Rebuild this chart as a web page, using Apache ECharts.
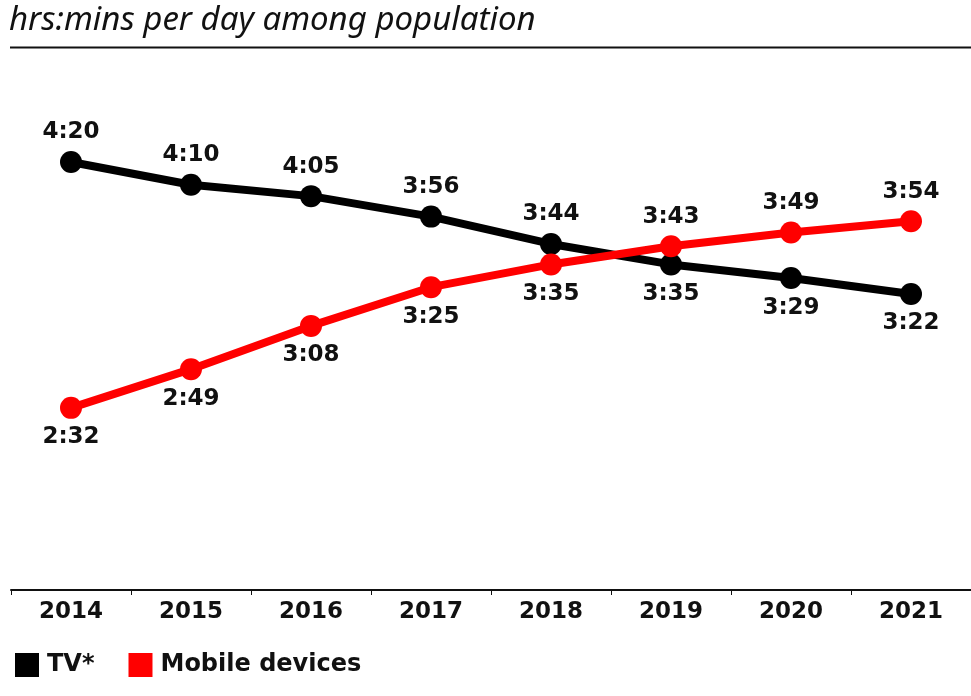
<!DOCTYPE html>
<html>
<head>
<meta charset="utf-8">
<script src="https://cdn.jsdelivr.net/npm/echarts@6/dist/echarts.min.js"></script>
<style>html,body{margin:0;padding:0;background:#fff}#c{width:971px;height:696px}</style>
</head>
<body>
<div id="c"></div>
<script>
const years = ['2014','2015','2016','2017','2018','2019','2020','2021'];
const tvMinutes = [260, 250, 245, 236, 224, 215, 209, 202];
const mobileMinutes = [152, 169, 188, 205, 215, 223, 229, 234];
const titleText = 'hrs:mins per day among population';
const seriesNames = ['TV*', 'Mobile devices'];

function fmt(m){ const h = Math.floor(m/60), mm = m%60; return h + ':' + (mm<10?'0':'') + mm; }

function build(values, other){
  return values.map((v,i)=>({
    value: v,
    label: { position: v >= other[i] ? 'top' : 'bottom' }
  }));
}

const labelStyle = {
  show: true,
  formatter: p => fmt(p.value),
  fontFamily: 'DejaVu Sans',
  fontWeight: 'bold',
  fontSize: 23,
  color: '#111',
  distance: 7
};

const chart = echarts.init(document.getElementById('c'), null, {renderer:'canvas'});
chart.setOption({
  animation: false,
  backgroundColor: '#fff',
  graphic: [
    { type: 'text', left: 9, top: 4, style: { text: titleText, font: 'italic 33px "Noto Sans"', fill: '#111' } },
    { type: 'line', shape: { x1: 10, y1: 47.5, x2: 971, y2: 47.5 }, style: { stroke: '#111', lineWidth: 2 } }
  ],
  grid: { left: 11, top: 47, width: 964, bottom: 106, containLabel: false },
  legend: {
    left: 10, top: 648,
    itemWidth: 24, itemHeight: 24, itemGap: 34,
    icon: 'rect',
    data: seriesNames,
    textStyle: { fontFamily: 'DejaVu Sans', fontWeight: 'bold', fontSize: 24, color: '#111', padding: [0,0,0,3] }
  },
  xAxis: {
    type: 'category',
    data: years,
    boundaryGap: true,
    axisLine: { lineStyle: { color: '#111', width: 2 } },
    axisTick: { show: true, length: 5, lineStyle: { color: '#111', width: 1 } },
    axisLabel: { fontFamily: 'DejaVu Sans', fontWeight: 'bold', fontSize: 23, color: '#111', margin: 11 }
  },
  yAxis: {
    type: 'value', min: 72, max: 310.5, show: false, splitLine: { show: false }
  },
  series: [
    {
      name: seriesNames[0], type: 'line', data: build(tvMinutes, mobileMinutes),
      symbol: 'circle', symbolSize: 22, color: '#000',
      lineStyle: { color: '#000', width: 8 }, itemStyle: { color: '#000' },
      label: labelStyle, z: 2
    },
    {
      name: seriesNames[1], type: 'line', data: build(mobileMinutes, tvMinutes),
      symbol: 'circle', symbolSize: 22, color: '#ff0000',
      lineStyle: { color: '#ff0000', width: 8 }, itemStyle: { color: '#ff0000' },
      label: labelStyle, z: 3
    }
  ]
});
</script>
</body>
</html>
